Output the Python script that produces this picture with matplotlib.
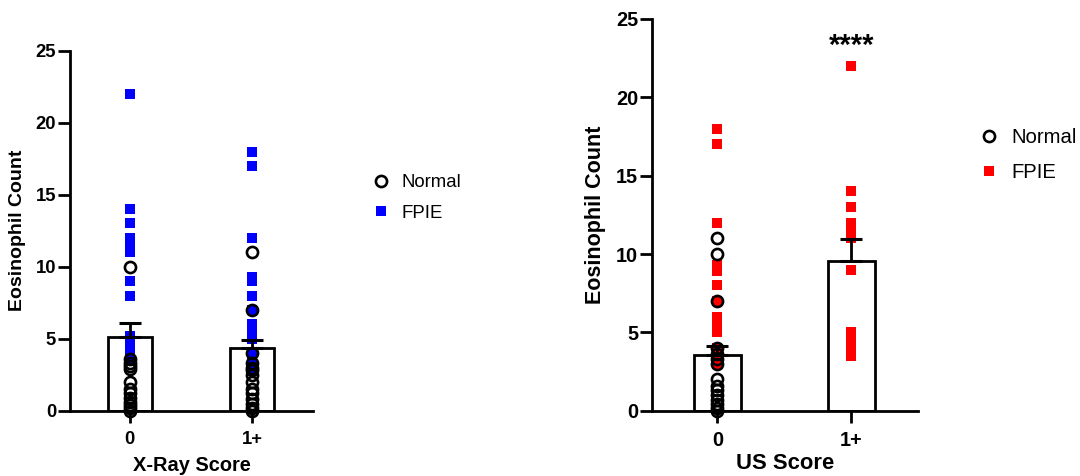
import matplotlib
matplotlib.use("Agg")
import matplotlib.pyplot as plt
from matplotlib.lines import Line2D

plt.rcParams['font.family'] = ['Liberation Sans', 'DejaVu Sans']

categories = ["0", "1+"]

# Left panel: X-Ray score
xr_fpie = [
    [22, 14, 13, 12, 11.5, 11, 9, 8, 5.2, 4.8, 4.4, 4.0, 3.6],
    [18, 17, 12, 9.3, 9.0, 8, 7, 6, 5.5, 5, 4, 3.5, 3, 2.8],
]
xr_norm = [
    [10, 3.6, 3.3, 3.1, 2.9, 2.0, 1.5, 1.2, 0.9, 0.6, 0.4, 0.2, 0],
    [11, 7, 4, 3.3, 3.0, 2.8, 2.5, 2.0, 1.5, 1.2, 0.8, 0.5, 0.2, 0],
]
xr_mean = [5.1, 4.33]
xr_sem = [1.0, 0.57]

# Right panel: US score
us_fpie = [
    [18, 17, 12, 9.3, 8.9, 8, 7, 6, 5.5, 5, 4, 3.6, 3],
    [22, 14, 13, 12, 11.5, 11, 9, 5, 4.5, 4, 3.5],
]
us_norm = [
    [11, 10, 7, 4, 3.6, 3.3, 3.0, 2.0, 1.6, 1.3, 1.0, 0.7, 0.4, 0.2, 0],
    [],
]
us_mean = [3.55, 9.55]
us_sem = [0.58, 1.4]

W, H = 1080, 476
fig = plt.figure(figsize=(W / 100, H / 100), dpi=100)

def px_axes(x0, x1, ytop, ybot):
    return fig.add_axes([x0 / W, 1 - ybot / H, (x1 - x0) / W, (ybot - ytop) / H])

def panel(ax, fpie, norm, mean, sem, color, xlabel, tick_fs, lab_fs, xlab_fs, bw, ylpad, xlpad):
    xs = list(range(len(categories)))
    ax.bar(xs, mean, width=bw, color='white', edgecolor='black', linewidth=2.0, zorder=1)
    for i in xs:
        if fpie[i]:
            ax.plot([i] * len(fpie[i]), fpie[i], linestyle='none', marker='s',
                    markersize=7.8, color=color, markeredgewidth=0, zorder=2, clip_on=False)
        if norm[i]:
            ax.plot([i] * len(norm[i]), norm[i], linestyle='none', marker='o',
                    markersize=8, markerfacecolor='none', markeredgecolor='black',
                    markeredgewidth=1.9, zorder=3, clip_on=False)
    ax.errorbar(xs, mean, yerr=[[0] * len(xs), sem], fmt='none', ecolor='black',
                elinewidth=2.0, capsize=8, capthick=2.2, zorder=4)
    ax.set_xlim(-0.49, 1.5)
    ax.set_ylim(0, 25)
    ax.set_yticks([0, 5, 10, 15, 20, 25])
    ax.set_xticks(xs)
    ax.set_xticklabels(categories)
    for s in ['top', 'right']:
        ax.spines[s].set_visible(False)
    for s in ['left', 'bottom']:
        ax.spines[s].set_linewidth(2.0)
    ax.tick_params(width=2.0, length=8.5, labelsize=tick_fs)
    ax.tick_params(axis='y', pad=1.5)
    ax.tick_params(axis='x', pad=6)
    for lab in ax.get_xticklabels() + ax.get_yticklabels():
        lab.set_fontweight('bold')
    ax.set_ylabel("Eosinophil Count", fontsize=lab_fs, fontweight='bold', labelpad=ylpad)
    ax.set_xlabel(xlabel, fontsize=xlab_fs, fontweight='bold', labelpad=xlpad)

ax1 = px_axes(70, 313, 50.7, 410.7)
panel(ax1, xr_fpie, xr_norm, xr_mean, xr_sem, '#0000FF', "X-Ray Score", 13.3, 14, 14.4, 0.36, 7, 6)

ax2 = px_axes(652, 918, 19, 410.7)
panel(ax2, us_fpie, us_norm, us_mean, us_sem, '#FF0000', "US Score", 14.3, 15.5, 15.8, 0.35, 7, 2.5)
ax2.text(1, 23.3, "****", ha='center', va='center', fontsize=21, fontweight='bold')

def legend(color, x, y, fs):
    handles = [
        Line2D([], [], linestyle='none', marker='o', markersize=8, markerfacecolor='none',
               markeredgecolor='black', markeredgewidth=1.9),
        Line2D([], [], linestyle='none', marker='s', markersize=7.8, color=color, markeredgewidth=0),
    ]
    fig.legend(handles, ["Normal", "FPIE"], loc='center left',
               bbox_to_anchor=(x / W, 1 - y / H), frameon=False, fontsize=fs,
               handletextpad=0.6, labelspacing=0.75, handlelength=1.0, borderpad=0)

legend('#0000FF', 362, 198, 13.4)
legend('#FF0000', 969, 155, 14.6)

fig.savefig("out.png", dpi=100)
